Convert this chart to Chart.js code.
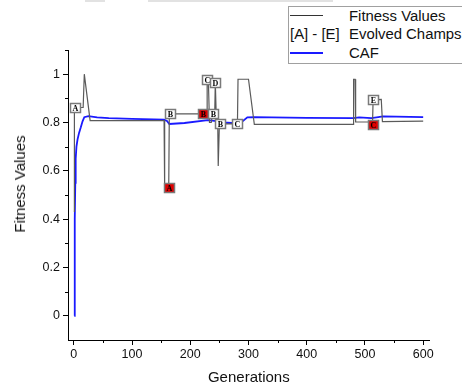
<!DOCTYPE html>
<html>
<head>
<meta charset="utf-8">
<script src="https://cdn.jsdelivr.net/npm/chart.js@4.4.1/dist/chart.umd.min.js"></script>
<style>
html, body { margin: 0; padding: 0; background: #fff; }
#wrap { position: relative; width: 462px; height: 390px; overflow: hidden; font-family: "Liberation Sans", Arial, sans-serif; color: #111; }
#chart { position: absolute; left: 0; top: 0; }
.txt { position: absolute; white-space: nowrap; font-size: 14.9px; line-height: 18px; }
.bar { position: absolute; top: 0; height: 2px; background: #e2e2e2; }
#legend { position: absolute; left: 288px; top: 6px; width: 190px; height: 56px; border: 1px solid #a0a0a0; background: #fff; }
.sample { position: absolute; left: 290px; width: 33px; }
</style>
</head>
<body>
<div id="wrap">
  <div class="bar" style="left:85px;width:20px"></div>
  <div class="bar" style="left:148px;width:185px"></div>
  <canvas id="chart" width="462" height="390"></canvas>
  <div id="legend"></div>
  <div class="sample" style="top:15px;height:1px;background:#333"></div>
  <div class="txt" style="left:349px;top:6.5px">Fitness Values</div>
  <div class="txt" style="left:290px;top:25px">[A] - [E]</div>
  <div class="txt" style="left:349px;top:25px">Evolved Champs</div>
  <div class="sample" style="top:52px;height:1.5px;background:#1a1aff"></div>
  <div class="txt" style="left:349px;top:43.5px">CAF</div>
  <div class="txt" style="left:19.7px;top:184px;font-size:15px;transform:translate(-50%,-50%) rotate(-90deg)">Fitness Values</div>
  <div class="txt" style="left:248.8px;top:377.3px;font-size:15px;transform:translate(-50%,-50%)">Generations</div>
</div>
<script>
// fitness of the champion per generation (gray)
const fitGen = [1, 1, 16, 18, 28, 155, 156, 163, 164, 229, 229, 231, 233, 236, 238, 242, 243, 244, 244.5, 247, 248, 249, 250, 281, 282, 300, 310, 480, 480.5, 483, 484, 512, 513, 514, 528, 530, 600];
const fitVal = [0.43, 0.862, 0.862, 1.0, 0.808, 0.808, 0.53, 0.53, 0.836, 0.836, 0.98, 0.98, 0.80, 0.80, 0.836, 0.836, 0.966, 0.966, 0.836, 0.836, 0.62, 0.62, 0.794, 0.794, 0.979, 0.979, 0.792, 0.792, 0.979, 0.979, 0.802, 0.802, 0.793, 0.894, 0.896, 0.804, 0.806];

// CAF curve (blue)
const cafGen = [0.7, 1.2, 1.6, 2, 2.5, 3.2, 4.5, 6.4, 9, 12, 15, 18, 25, 40, 60, 100, 155, 160, 164, 190, 230, 245, 256, 279, 290, 298, 310, 400, 480, 490, 511, 520, 531, 600];
const cafVal = [0, 0.1, 0.25, 0.4, 0.55, 0.65, 0.70, 0.73, 0.757, 0.78, 0.805, 0.822, 0.826, 0.821, 0.818, 0.815, 0.812, 0.806, 0.794, 0.798, 0.81, 0.806, 0.80, 0.797, 0.805, 0.821, 0.822, 0.819, 0.818, 0.821, 0.818, 0.821, 0.825, 0.822];

// evolved champions [A]-[E]
const champGen = [1.2, 163, 164.5, 222, 228.4, 243, 239.4, 251, 279.8, 514, 514];
const champVal = [0.862, 0.529, 0.836, 0.836, 0.98, 0.966, 0.837, 0.794, 0.794, 0.894, 0.793];
const champLabel = ['A', 'A', 'B', 'B', 'C', 'D', 'B', 'B', 'C', 'E', 'C'];
const champRed = [false, true, false, true, false, false, false, false, false, false, true];

// axis ticks
const xTicks = [0, 100, 200, 300, 400, 500, 600];
const xMinor = [50, 150, 250, 350, 450, 550];
const yTicks = [0, 0.2, 0.4, 0.6, 0.8, 1];
const yMinor = [0.1, 0.3, 0.5, 0.7, 0.9, 1.1];

const FONT = '"Liberation Sans", Arial, sans-serif';

const extras = {
    id: 'extras',
    afterDatasetsDraw(chart) {
        const { ctx } = chart;
        const x = chart.scales.x, y = chart.scales.y;
        ctx.save();
        // minor ticks
        ctx.strokeStyle = '#000';
        ctx.lineWidth = 1;
        ctx.beginPath();
        xMinor.forEach(v => {
            const px = Math.round(x.getPixelForValue(v)) + 0.5;
            ctx.moveTo(px, y.bottom);
            ctx.lineTo(px, y.bottom + 3);
        });
        yMinor.forEach(v => {
            const py = Math.round(y.getPixelForValue(v)) + 0.5;
            ctx.moveTo(x.left - 3, py);
            ctx.lineTo(x.left, py);
        });
        ctx.stroke();

        // champ boxes
        const meta = chart.getDatasetMeta(2);
        meta.data.forEach((pt, i) => {
            const w = 10, h = 9;
            const bx = Math.round(pt.x - w / 2) + 0.5;
            const by = Math.round(pt.y - h / 2) + 0.5;
            ctx.fillStyle = champRed[i] ? '#e00000' : '#fff';
            ctx.fillRect(bx, by, w, h);
            ctx.strokeStyle = '#7a7a7a';
            ctx.lineWidth = 1.5;
            ctx.strokeRect(bx, by, w, h);
            ctx.fillStyle = '#000';
            ctx.font = 'bold 8px "Liberation Serif", serif';
            ctx.textAlign = 'center';
            ctx.textBaseline = 'middle';
            ctx.fillText(champLabel[i], bx + w / 2, by + h / 2 + 0.5);
        });
        ctx.restore();
    }
};

const fmt = v => String(Math.round(v * 10) / 10);

new Chart(document.getElementById('chart'), {
    type: 'line',
    data: {
        datasets: [{
            label: 'Fitness Values',
            data: fitGen.map((g, i) => ({ x: g, y: fitVal[i] })),
            borderColor: '#5a5a5a',
            borderWidth: 1.2,
            pointRadius: 0,
            tension: 0
        }, {
            label: 'CAF',
            data: cafGen.map((g, i) => ({ x: g, y: cafVal[i] })),
            borderColor: '#1a1aff',
            borderWidth: 1.8,
            pointRadius: 0,
            tension: 0
        }, {
            label: 'Evolved Champs',
            data: champGen.map((g, i) => ({ x: g, y: champVal[i] })),
            showLine: false,
            pointRadius: 0
        }]
    },
    options: {
        responsive: false,
        animation: false,
        devicePixelRatio: 1,
        layout: { padding: { left: 0, top: 50, right: 33, bottom: 0 } },
        plugins: {
            legend: { display: false },
            tooltip: { enabled: false }
        },
        scales: {
            x: {
                type: 'linear',
                min: -10,
                max: 610,
                afterBuildTicks: s => { s.ticks = xTicks.map(v => ({ value: v })); },
                afterFit: s => { s.height = 50; },
                grid: { display: true, drawOnChartArea: false, drawTicks: true, tickLength: 5, color: '#000' },
                border: { display: true, color: '#000', width: 1 },
                ticks: { callback: fmt, color: '#111', padding: 2, maxRotation: 0, autoSkip: false, font: { family: FONT, size: 12.5 } }
            },
            y: {
                type: 'linear',
                min: -0.1,
                max: 1.1,
                afterBuildTicks: s => { s.ticks = yTicks.map(v => ({ value: v })); },
                afterFit: s => { s.width = 68; },
                grid: { display: true, drawOnChartArea: false, drawTicks: true, tickLength: 5, color: '#000' },
                border: { display: true, color: '#000', width: 1 },
                ticks: { callback: fmt, color: '#111', padding: 3, autoSkip: false, font: { family: FONT, size: 12.5 } }
            }
        }
    },
    plugins: [extras]
});
</script>
</body>
</html>
